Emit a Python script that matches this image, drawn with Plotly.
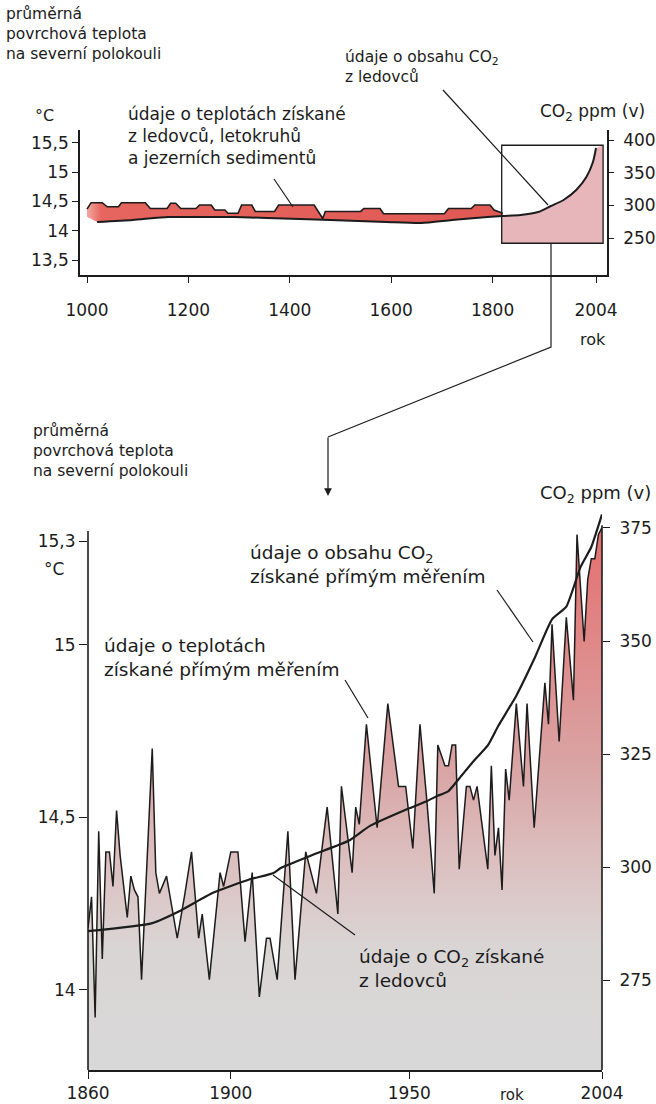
import plotly.graph_objects as go

# ---------- horní graf: rekonstrukce 1000–1820 a CO2 z ledovců ----------
rok_rekon_horni = [1000, 1008, 1030, 1040, 1062, 1068, 1115, 1125, 1158, 1165, 1175, 1185,
                   1215, 1222, 1245, 1252, 1272, 1278, 1298, 1305, 1325, 1332, 1370, 1378,
                   1448, 1458, 1465, 1470, 1540, 1546, 1578, 1585, 1705, 1713, 1758, 1765,
                   1795, 1803, 1820]
teplota_rekon_horni = [14.37, 14.48, 14.48, 14.41, 14.41, 14.48, 14.48, 14.38, 14.38, 14.47, 14.47, 14.38,
                       14.38, 14.44, 14.44, 14.355, 14.355, 14.30, 14.30, 14.44, 14.44, 14.33, 14.33, 14.44,
                       14.44, 14.30, 14.21, 14.33, 14.33, 14.38, 14.38, 14.29, 14.29, 14.38, 14.38, 14.44,
                       14.44, 14.355, 14.30]
rok_rekon_dolni = [1000, 1020, 1090, 1160, 1220, 1290, 1355, 1420, 1480, 1590, 1660, 1720, 1790, 1820]
teplota_rekon_dolni = [14.24, 14.15, 14.18, 14.235, 14.235, 14.235, 14.22, 14.20, 14.18, 14.15, 14.13,
                       14.18, 14.235, 14.25]

rok_co2_dlouhy = [1020, 1090, 1160, 1220, 1290, 1355, 1420, 1480, 1590, 1660, 1720, 1790, 1820,
                  1855, 1890, 1915, 1940, 1965, 1985, 1998, 2004]
co2_dlouhy = [274.5, 277.6, 282.1, 282.1, 282.1, 280.6, 279.1, 277.6, 274.5, 273.0, 277.6, 282.1, 283.7,
              285.2, 289.8, 299.0, 308.2, 323.5, 343.4, 366.3, 387.8]

# výřez zvětšený v dolním grafu
vyrez_roky = [1818, 2018]
vyrez_co2 = [242, 392]

# ---------- dolní graf: přímá měření 1860–2004 ----------
rok_mereni = [1860, 1861, 1862, 1863, 1864, 1865, 1866, 1867, 1868, 1869, 1871, 1872, 1873, 1874,
              1875, 1878, 1879, 1880, 1882, 1885, 1887, 1889, 1891, 1892, 1894, 1897, 1898, 1900,
              1902, 1904, 1906, 1908, 1910, 1911, 1913, 1916, 1918, 1921, 1924, 1927, 1930, 1931,
              1934, 1935, 1936, 1938, 1941, 1942, 1944, 1947, 1949, 1951, 1953, 1955, 1957, 1958,
              1960, 1961, 1962, 1963, 1964, 1966, 1967, 1968, 1969, 1972, 1973, 1974, 1975, 1976,
              1977, 1978, 1980, 1982, 1983, 1985, 1988, 1989, 1990, 1992, 1994, 1996, 1997, 1999,
              2000, 2001, 2002, 2003, 2004]
teplota_mereni = [14.18, 14.27, 13.92, 14.46, 14.09, 14.40, 14.40, 14.30, 14.52, 14.39, 14.21, 14.33,
                  14.29, 14.27, 14.03, 14.70, 14.34, 14.28, 14.33, 14.15, 14.27, 14.40, 14.15, 14.22,
                  14.03, 14.34, 14.30, 14.40, 14.40, 14.14, 14.34, 13.98, 14.15, 14.15, 14.03, 14.46,
                  14.03, 14.40, 14.28, 14.53, 14.22, 14.59, 14.34, 14.53, 14.48, 14.77, 14.47, 14.59,
                  14.83, 14.59, 14.59, 14.41, 14.77, 14.54, 14.28, 14.71, 14.65, 14.65, 14.71, 14.71,
                  14.35, 14.59, 14.59, 14.55, 14.59, 14.35, 14.65, 14.39, 14.47, 14.29, 14.64, 14.55,
                  14.83, 14.59, 14.83, 14.47, 14.89, 14.77, 15.06, 14.72, 15.08, 14.84, 15.32, 15.01,
                  15.19, 15.25, 15.25, 15.32, 15.34]

rok_co2_ledovce = [1860, 1878, 1886, 1895, 1905, 1912, 1914, 1923, 1933, 1939, 1950, 1955, 1958]
co2_ledovce = [285.8, 287.6, 290.4, 294.3, 297.2, 298.7, 299.8, 302.7, 305.8, 309.1, 313.0, 314.6, 315.8]
rok_co2_primo = [1958, 1961, 1964, 1968, 1972, 1975, 1980, 1985, 1990, 1994, 1998, 2001, 2004]
co2_primo = [315.8, 316.8, 319.6, 323.4, 326.9, 331.3, 337.9, 346.0, 354.8, 357.6, 366.4, 370.8, 378.0]

# popisky os
horni_roky = [1000, 1200, 1400, 1600, 1800, 2004]
horni_teploty = [13.5, 14, 14.5, 15, 15.5]
horni_co2 = [250, 300, 350, 400]
dolni_roky = [1860, 1900, 1950, 2004]
dolni_teploty = [14, 14.5, 15, 15.3]
dolni_co2 = [275, 300, 325, 350, 375]

# ---------- pomocné převody ----------
W, H = 656, 1104
FONT = "DejaVu Sans"
INK = "#1c1c1c"


def px(x):
    return x / W


def py(y):
    return 1 - y / H


def cz(v):
    return f"{v:g}".replace(".", ",")


fig = go.Figure()

# --- horní graf ---
pas_x = rok_rekon_horni + rok_rekon_dolni[::-1]
pas_y = teplota_rekon_horni + teplota_rekon_dolni[::-1]
fig.add_trace(go.Scatter(
    x=pas_x, y=pas_y, xaxis="x", yaxis="y", mode="lines", fill="toself",
    line=dict(width=0), fillcolor="#e4625d",
    fillgradient=dict(type="horizontal", start=1000, stop=1820,
                      colorscale=[[0, "#f3a8a3"], [0.035, "#e6655f"], [1, "#e05955"]]),
    hoverinfo="skip", showlegend=False))
fig.add_trace(go.Scatter(
    x=rok_rekon_horni, y=teplota_rekon_horni, xaxis="x", yaxis="y", mode="lines",
    line=dict(color=INK, width=1.6), hoverinfo="skip", showlegend=False))

# výplň výřezu pod křivkou CO2
v_x = [vyrez_roky[0]] + [r for r in rok_co2_dlouhy if r >= 1820] + [vyrez_roky[1], vyrez_roky[1], vyrez_roky[0]]
v_y = ([co2_dlouhy[rok_co2_dlouhy.index(1820)]]
       + [c for r, c in zip(rok_co2_dlouhy, co2_dlouhy) if r >= 1820]
       + [vyrez_co2[1], vyrez_co2[0], vyrez_co2[0]])
fig.add_trace(go.Scatter(
    x=v_x, y=v_y, xaxis="x", yaxis="y2", mode="lines", fill="toself",
    line=dict(width=0), fillcolor="#e6b6bb", hoverinfo="skip", showlegend=False))
fig.add_trace(go.Scatter(
    x=rok_co2_dlouhy, y=co2_dlouhy, xaxis="x", yaxis="y2", mode="lines",
    line=dict(color=INK, width=2, shape="spline", smoothing=0.6), hoverinfo="skip", showlegend=False))

# --- dolní graf ---
fig.add_trace(go.Scatter(
    x=rok_mereni, y=teplota_mereni, xaxis="x2", yaxis="y3", mode="lines", fill="tozeroy",
    line=dict(color=INK, width=1.5), fillcolor="#dcb0b0",
    fillgradient=dict(type="vertical", start=13.77, stop=15.35,
                      colorscale=[[0, "#d8d8d8"], [0.22, "#dad5d5"], [0.38, "#dcc0c0"],
                                  [0.55, "#d9a5a5"], [0.8, "#e08686"], [1, "#e56f6f"]]),
    hoverinfo="skip", showlegend=False))
for xs, ys in ((rok_co2_ledovce, co2_ledovce), (rok_co2_primo, co2_primo)):
    fig.add_trace(go.Scatter(
        x=xs, y=ys, xaxis="x2", yaxis="y4", mode="lines",
        line=dict(color=INK, width=2.2, shape="spline", smoothing=0.5),
        hoverinfo="skip", showlegend=False))

# ---------- osy ----------
tick_font = dict(family=FONT, size=17, color=INK)
osa = dict(showgrid=False, zeroline=False, ticks="outside", tickcolor=INK, tickwidth=1.4,
           linecolor=INK, linewidth=1.6, tickfont=tick_font, fixedrange=True, automargin=False)

fig.update_layout(
    xaxis=dict(osa, domain=[px(80), px(607)], anchor="y", range=[986.2, 2025.7],
               tickmode="array", tickvals=horni_roky, ticklen=6, showline=True,
               ticklabelstandoff=13),
    yaxis=dict(osa, domain=[py(275), py(130)], anchor="x", range=[13.244, 15.722],
               tickmode="array", tickvals=horni_teploty, ticktext=[cz(v) for v in horni_teploty],
               ticklen=6, showline=True),
    yaxis2=dict(osa, overlaying="y", side="right", anchor="x", range=[193.4, 415.3],
                tickmode="array", tickvals=horni_co2, ticklen=5, showline=True,
                ticklabelstandoff=6),
    xaxis2=dict(osa, domain=[px(88), px(602)], anchor="y3", range=[1860, 2004],
                tickmode="array", tickvals=dolni_roky, ticklen=7, showline=True),
    yaxis3=dict(osa, domain=[py(1070), py(510)], anchor="x2", range=[13.768, 15.391],
                tickmode="array", tickvals=dolni_teploty, ticktext=[cz(v) for v in dolni_teploty],
                ticklen=8, showline=False),
    yaxis4=dict(osa, overlaying="y3", side="right", anchor="x2", range=[255.1, 378.98],
                tickmode="array", tickvals=dolni_co2, ticklen=7, showline=False,
                ticklabelstandoff=6),
)

shapes = [
    # rámeček výřezu
    dict(type="rect", xref="x", yref="y2", x0=vyrez_roky[0], x1=vyrez_roky[1],
         y0=vyrez_co2[0], y1=vyrez_co2[1], line=dict(color=INK, width=1.3)),
    # svislé osy dolního grafu
    dict(type="line", xref="x2 domain", yref="y3", x0=0, x1=0, y0=13.768, y1=15.33,
         line=dict(color=INK, width=1.6)),
    dict(type="line", xref="x2 domain", yref="y4", x0=1, x1=1, y0=255.1, y1=375.6,
         line=dict(color=INK, width=1.6)),
    # spojnice výřezu s dolním grafem
    dict(type="path", xref="paper", yref="paper",
         path=f"M {px(551)},{py(243)} L {px(551)},{py(347)} L {px(328)},{py(437)}",
         line=dict(color=INK, width=1.2)),
]

# odkazové čáry k popiskům
for (x0, y0, x1, y1) in [(443, 90, 548, 205), (274, 179, 293, 207),
                         (345, 680, 368, 718), (497, 590, 533, 642), (355, 935, 273, 875)]:
    shapes.append(dict(type="line", xref="paper", yref="paper",
                       x0=px(x0), y0=py(y0), x1=px(x1), y1=py(y1),
                       line=dict(color=INK, width=1.2)))

annotations = [
    dict(x=px(328), y=py(496), ax=0, ay=-60, xref="paper", yref="paper", text="",
         showarrow=True, arrowhead=2, arrowsize=1.3, arrowwidth=1.2, arrowcolor=INK),
]


def text(x, y_top, s, size, anchor="left"):
    annotations.append(dict(x=px(x), y=py(y_top), xref="paper", yref="paper", text=s,
                            showarrow=False, xanchor=anchor, yanchor="top", align=anchor,
                            font=dict(family=FONT, size=size, color=INK)))


text(4, 3, "průměrná<br>povrchová teplota<br>na severní polokouli", 15.5)
text(343, 46, "údaje o obsahu CO<sub>2</sub><br>z ledovců", 15.5)
text(33, 104, "°C", 16)
text(126, 102, "údaje o teplotách získané<br>z ledovců, letokruhů<br>a jezerních sedimentů", 17)
text(538, 99, "CO<sub>2</sub> ppm (v)", 17)
text(578, 328, "rok", 16)

text(31, 420, "průměrná<br>povrchová teplota<br>na severní polokouli", 15.5)
text(538, 480, "CO<sub>2</sub> ppm (v)", 18)
text(42, 557, "°C", 17)
text(248, 540, "údaje o obsahu CO<sub>2</sub><br>získané přímým měřením", 18.5)
text(102, 633, "údaje o teplotách<br>získané přímým měřením", 18.5)
text(357, 944, "údaje o CO<sub>2</sub> získané<br>z ledovců", 18.5)
text(498, 1084, "rok", 15)

fig.update_layout(
    width=W, height=H, margin=dict(l=0, r=0, t=0, b=0),
    paper_bgcolor="white", plot_bgcolor="rgba(0,0,0,0)",
    font=dict(family=FONT, color=INK),
    shapes=shapes, annotations=annotations, showlegend=False,
)

fig.write_html("out.html", config={"displayModeBar": False})
